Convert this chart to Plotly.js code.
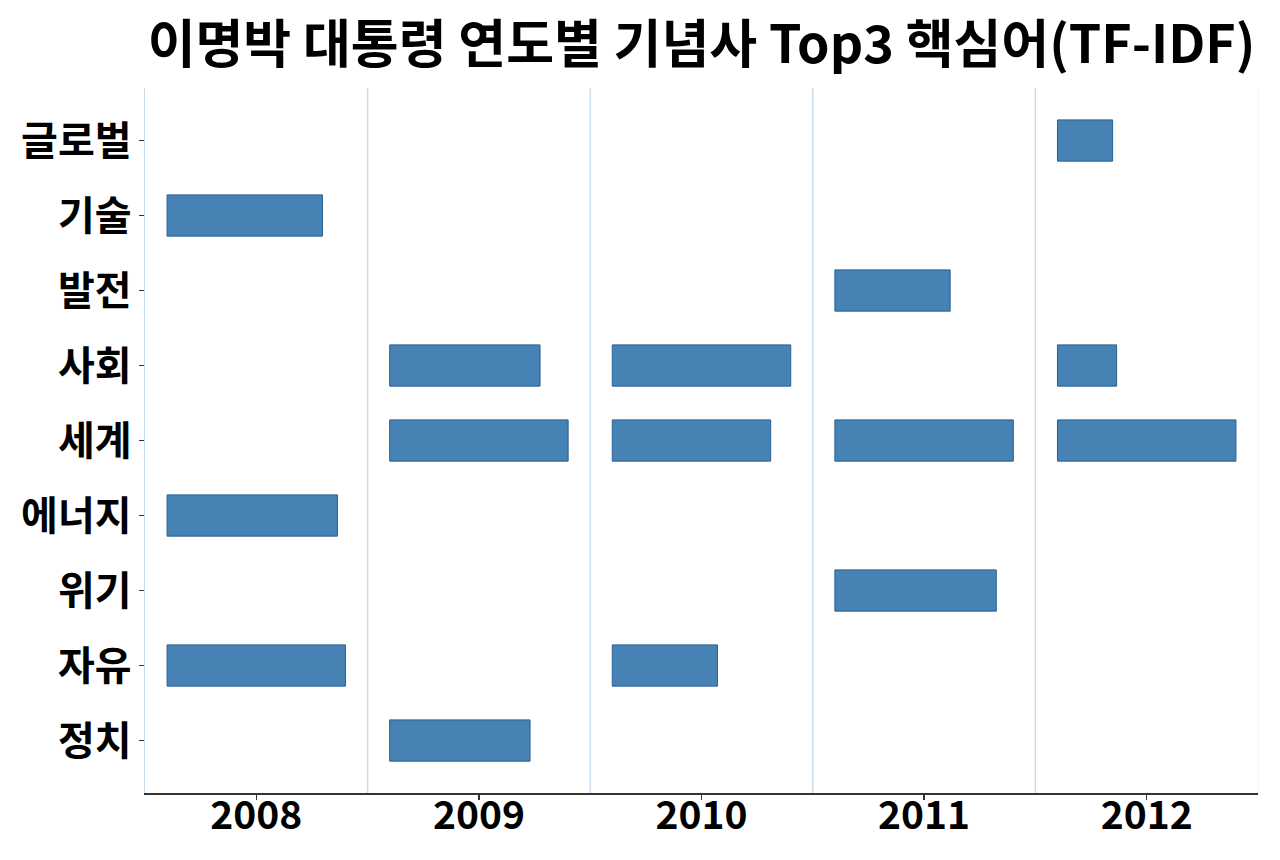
<!DOCTYPE html>
<html>
<head>
<meta charset="utf-8">
<script src="https://cdn.plot.ly/plotly-3.0.1.min.js"></script>
<style>
  html, body { margin: 0; padding: 0; background: #fff; }
  #chart { width: 1280px; height: 860px; }
</style>
</head>
<body>
<div id="chart"></div>
<script>
// keywords on the y axis, top to bottom
const keywords = ['글로벌', '기술', '발전', '사회', '세계', '에너지', '위기', '자유', '정치'];
const years = ['2008', '2009', '2010', '2011', '2012'];

// top3 keywords per year and their TF-IDF scores
const words2008 = ['기술', '에너지', '자유'];
const tfidf2008 = [0.155, 0.170, 0.178];
const words2009 = ['사회', '세계', '정치'];
const tfidf2009 = [0.150, 0.178, 0.140];
const words2010 = ['사회', '세계', '자유'];
const tfidf2010 = [0.178, 0.158, 0.105];
const words2011 = ['발전', '세계', '위기'];
const tfidf2011 = [0.115, 0.178, 0.161];
const words2012 = ['글로벌', '사회', '세계'];
const tfidf2012 = [0.055, 0.059, 0.178];

const yearWords = [words2008, words2009, words2010, words2011, words2012];
const yearScores = [tfidf2008, tfidf2009, tfidf2010, tfidf2011, tfidf2012];

const font_family = '"Noto Sans CJK KR", "Noto Sans", sans-serif';
const sep_color = '#c9dcee';

const data = [];
const layout = {
  width: 1280,
  height: 860,
  paper_bgcolor: '#ffffff',
  plot_bgcolor: '#ffffff',
  showlegend: false,
  bargap: 0,
  margin: { l: 145, r: 22, t: 88, b: 67, pad: 0 },
  font: { family: font_family, color: '#000000' },
  title: {
    text: '이명박 대통령 연도별 기념사 Top3 핵심어(TF-IDF)',
    font: { family: font_family, size: 52, weight: 700, color: '#000000' },
    xref: 'paper',
    x: 0.5,
    xanchor: 'center',
    yref: 'container',
    y: 1 - 45 / 860,
    yanchor: 'middle',
  },
  yaxis: {
    type: 'category',
    categoryorder: 'array',
    categoryarray: keywords,
    range: [keywords.length - 0.3, -0.7],
    showgrid: false,
    zeroline: false,
    showline: true,
    linecolor: sep_color,
    linewidth: 1.5,
    ticks: 'outside',
    ticklen: 5,
    tickwidth: 1.5,
    tickcolor: '#333333',
    ticklabelstandoff: -1,
    tickfont: { family: font_family, size: 40, weight: 700, color: '#000000' },
    fixedrange: true,
  },
  shapes: [],
};

years.forEach((yr, i) => {
  const axName = i === 0 ? 'x' : 'x' + (i + 1);
  const layoutKey = i === 0 ? 'xaxis' : 'xaxis' + (i + 1);
  const maxVal = Math.max(...yearScores[i]);
  const pad = maxVal * 0.1236;

  data.push({
    type: 'bar',
    orientation: 'h',
    x: yearScores[i],
    y: yearWords[i],
    xaxis: axName,
    yaxis: 'y',
    width: 0.55,
    marker: {
      color: '#4682b4',
      line: { color: '#2a6194', width: 1 },
    },
    hoverinfo: 'x+y',
  });

  layout[layoutKey] = {
    domain: [i / years.length, (i + 1) / years.length],
    anchor: 'y',
    range: [-pad, maxVal + pad],
    showgrid: false,
    zeroline: false,
    showline: true,
    linecolor: '#333333',
    linewidth: 1.5,
    ticks: 'outside',
    ticklen: 5,
    tickwidth: 1.5,
    tickcolor: '#333333',
    ticklabelstandoff: -17,
    tickmode: 'array',
    tickvals: [maxVal / 2],
    ticktext: [yr],
    tickfont: { family: font_family, size: 39, weight: 700, color: '#000000' },
    fixedrange: true,
  };

  // light separator between year columns
  if (i > 0) {
    layout.shapes.push({
      type: 'line',
      xref: 'paper',
      yref: 'paper',
      x0: i / years.length,
      x1: i / years.length,
      y0: 0,
      y1: 1,
      line: { color: sep_color, width: 1.5 },
      layer: 'below',
    });
  }
});

// faint right border
layout.shapes.push({
  type: 'line',
  xref: 'paper',
  yref: 'paper',
  x0: 1,
  x1: 1,
  y0: 0,
  y1: 1,
  line: { color: '#f0f5fa', width: 1 },
  layer: 'below',
});

Plotly.newPlot('chart', data, layout, { displayModeBar: false, staticPlot: true });
</script>
</body>
</html>
